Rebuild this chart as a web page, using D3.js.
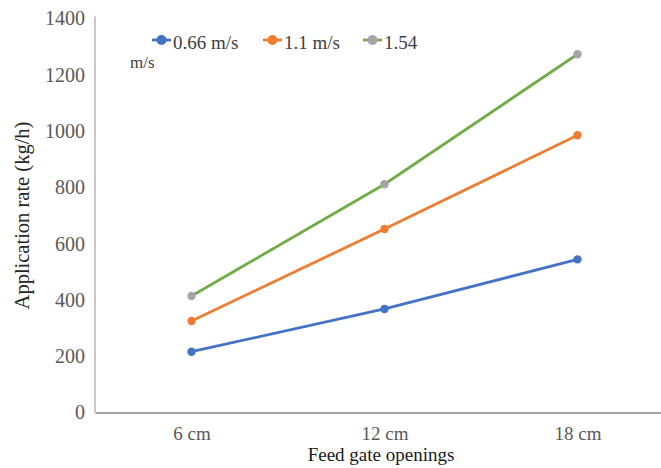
<!DOCTYPE html>
<html>
<head>
<meta charset="utf-8">
<script src="https://cdn.jsdelivr.net/npm/d3@7"></script>
<style>
  html, body { margin: 0; padding: 0; background: #fff; }
  svg { display: block; }
</style>
</head>
<body>
<svg id="chart" width="661" height="468"></svg>
<script>
// Feed gate openings on the x axis
const categories = ["6 cm", "12 cm", "18 cm"];
// Application rate (kg/h) for each forward speed
const speed066 = [216, 368, 544];
const speed11 = [325, 652, 985];
const speed154 = [414, 811, 1273];
const seriesNames = ["0.66 m/s", "1.1 m/s", "1.54 m/s"];
const yTicks = [0, 200, 400, 600, 800, 1000, 1200, 1400];

const series = [
  { name: seriesNames[0], values: speed066, line: "#4472c4", marker: "#4472c4" },
  { name: seriesNames[1], values: speed11, line: "#ed7d31", marker: "#ed7d31" },
  { name: seriesNames[2], values: speed154, line: "#70ad47", marker: "#a5a5a5" }
];

const serif = '"Liberation Serif"';
const svg = d3.select("#chart");
const plotLeft = 95, plotTop = 18.5, plotBottom = 412.5, plotRight = 674;

const x = d3.scalePoint().domain(categories).range([plotLeft, plotRight]).padding(0.5);
const y = d3.scaleLinear().domain([0, 1400]).range([plotBottom, plotTop]);

// Y axis
const yAxis = svg.append("g")
  .attr("transform", `translate(${plotLeft},0)`)
  .call(d3.axisLeft(y).tickValues(yTicks).tickSize(0).tickPadding(10).tickFormat(d3.format("d")));
yAxis.select(".domain").attr("stroke", "#c8c8c8").attr("stroke-width", 2)
  .attr("d", `M0,${plotTop - 2}V${plotBottom}`);
yAxis.selectAll("text").attr("fill", "#595959").style("font-size", "20px");

// X axis
const xAxis = svg.append("g")
  .attr("transform", `translate(0,${plotBottom})`)
  .call(d3.axisBottom(x).tickSize(0).tickPadding(14));
xAxis.select(".domain").attr("stroke", "#a6a6a6").attr("stroke-width", 2.2);
xAxis.selectAll("text").attr("fill", "#595959").style("font-size", "19px");

// Axis titles
svg.append("text")
  .attr("transform", `translate(29,${(plotTop + plotBottom) / 2}) rotate(-90)`)
  .attr("text-anchor", "middle")
  .attr("fill", "#262626")
  .style("font-size", "20.5px")
  .text("Application rate (kg/h)");

svg.append("text")
  .attr("x", 381).attr("y", 461)
  .attr("text-anchor", "middle")
  .attr("fill", "#1a1a1a")
  .style("font-size", "19px")
  .text("Feed gate openings");

// Lines and markers
const line = d3.line().x((d, i) => x(categories[i])).y(d => y(d));
series.forEach(s => {
  svg.append("path")
    .datum(s.values)
    .attr("fill", "none")
    .attr("stroke", s.line)
    .attr("stroke-width", 2.8)
    .attr("d", line);
  svg.selectAll(null)
    .data(s.values)
    .enter().append("circle")
    .attr("cx", (d, i) => x(categories[i]))
    .attr("cy", d => y(d))
    .attr("r", 4.2)
    .attr("fill", s.marker);
});

// Legend
const legendItems = [
  { x: 152, label: "0.66 m/s" },
  { x: 263, label: "1.1 m/s" },
  { x: 363, label: "1.54" }
];
legendItems.forEach((item, i) => {
  const g = svg.append("g").attr("transform", `translate(${item.x},40)`);
  g.append("line").attr("x1", 0).attr("x2", 19).attr("y1", 0).attr("y2", 0)
    .attr("stroke", series[i].line).attr("stroke-width", 2.8);
  g.append("circle").attr("cx", 9.5).attr("cy", 0).attr("r", 5).attr("fill", series[i].marker);
  g.append("text").attr("x", 21).attr("y", 9)
    .attr("fill", "#404040").style("font-size", "19px").text(item.label);
});
svg.append("text").attr("x", 130).attr("y", 68)
  .attr("fill", "#404040").style("font-size", "17px").text("m/s");

// Serif face for every label
svg.selectAll("text").style("font-family", serif);
</script>
</body>
</html>
